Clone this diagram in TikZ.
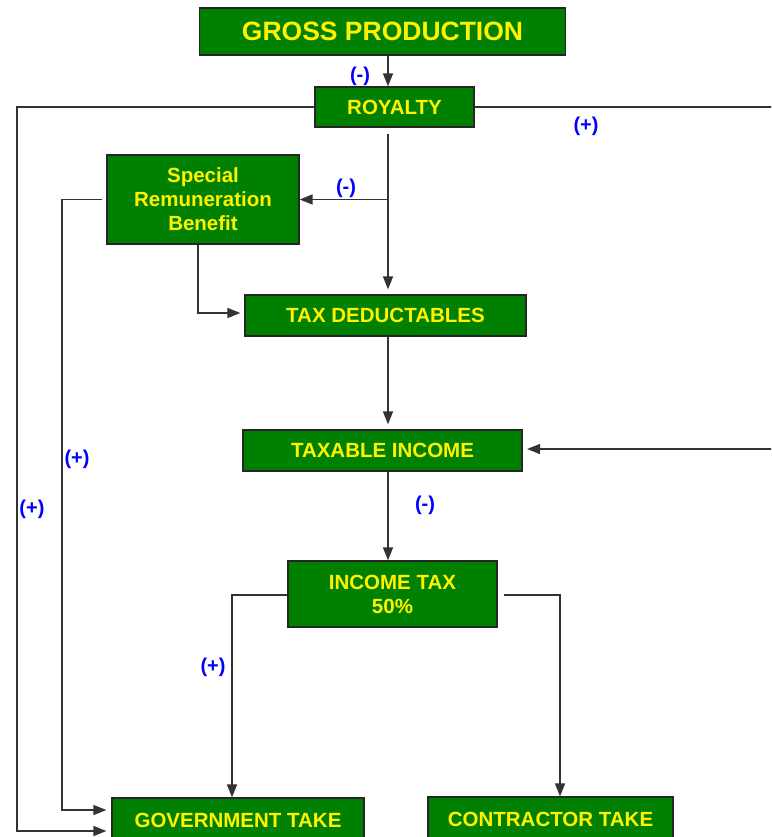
\documentclass[tikz,border=0pt]{standalone}
\usepackage{fontspec}
\setmainfont{Liberation Sans}
\usetikzlibrary{arrows.meta}
\definecolor{boxgreen}{RGB}{0,128,0}
\definecolor{sgnblue}{RGB}{0,0,255}
\tikzset{
every picture/.style={
line width=1.4pt
},
box/.style={draw=black!85, line width=1.2pt, fill=boxgreen, text=yellow,
  font=\bfseries\fontsize{20.5}{24}\selectfont, align=center, inner sep=0pt},
arr/.style={-{Triangle[length=13pt,width=10pt]}, draw=black!80},
sgn/.style={text=sgnblue, font=\bfseries\fontsize{20}{24}\selectfont, inner sep=0pt}
}

\begin{document}
\begin{tikzpicture}[x=1pt,y=-1pt]
\useasboundingbox (0,0) rectangle (771,837);
\clip (0,0) rectangle (771,837);

% boxes: name / centre x / centre y / width / height / text
\node[box, minimum width=366pt, minimum height=47pt, font=\bfseries\fontsize{26.5}{30}\selectfont] (gp) at (382.5,31.5) {GROSS PRODUCTION};
\foreach \n/\x/\y/\w/\h/\t in {roy/394.5/107/159/40/ROYALTY, srb/203/199.5/192/89/{Special\\Remuneration\\Benefit}, td/385.5/315.5/281/41/TAX DEDUCTABLES, ti/382.5/450.5/279/41/TAXABLE INCOME, it/392.5/594/209/66/{INCOME TAX\\50\%}, gov/238/820/252/44/GOVERNMENT TAKE, con/550.5/819/245/44/CONTRACTOR TAKE}{
  \node[box, minimum width=\w pt, minimum height=\h pt] (\n) at (\x,\y) {\t};
}

\coordinate (spine) at (388,0);
\coordinate (outl) at (17,0);
\coordinate (inl) at (62,0);
\coordinate (outr) at (774,0);

\draw[arr] (gp.south -| spine) -- (roy.north -| spine);
\draw[arr, shorten <=6pt, shorten >=5pt] (roy.south -| spine) -- (td.north -| spine);
\draw[arr] (srb.east -| spine) -- (srb.east);
\draw[arr, shorten >=4pt] ([xshift=-5pt]srb.south) |- ([yshift=2.5pt]td.west);
\draw[arr, shorten >=5pt] (roy.west) -- (roy.west -| outl) |- ([yshift=-11pt]gov.west);
\draw[arr, shorten <=4pt, shorten >=5pt] (srb.west) -- (srb.west -| inl) |- ([yshift=10pt]gov.west);
\draw[arr, shorten >=4.5pt] (roy.east) -- (roy.east -| outr) |- ([yshift=1.5pt]ti.east);
\draw[arr, shorten >=5pt] (td.south -| spine) -- (ti.north -| spine);
\draw[arr] (ti.south -| spine) -- (it.north -| spine);
\draw[arr] ([yshift=-1pt]it.west) -| ([xshift=-6pt]gov.north);
\draw[arr, shorten <=6pt] ([yshift=-1pt]it.east) -| ([xshift=9.5pt]con.north);

% signs
\foreach \x/\y/\s [count=\si] in {360/76/(-), 586/126/(+), 346/188/(-), 77/459/(+), 32/509/(+), 425/505/(-), 213/667/(+)}{
  \node[sgn] (sg\si) at (\x,\y) {\s};
}
\end{tikzpicture}
\end{document}
